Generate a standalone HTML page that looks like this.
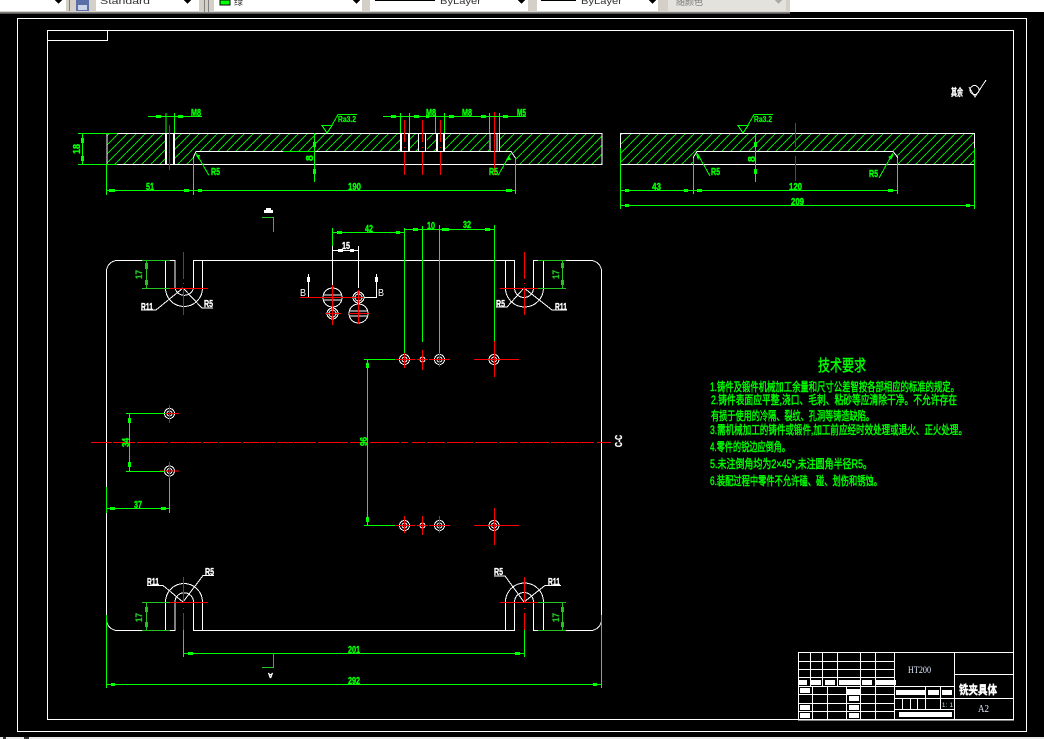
<!DOCTYPE html>
<html>
<head>
<meta charset="utf-8">
<title>铣夹具体</title>
<style>
html,body{margin:0;padding:0;background:#000;width:1044px;height:739px;overflow:hidden}
svg{display:block}
text{font-family:"Liberation Sans","Noto Sans CJK SC",sans-serif}
.d{fill:#00ff00;stroke:#00ff00;stroke-width:.4;font-size:10.500px;font-weight:bold;font-family:"Liberation Serif","Noto Sans CJK SC",serif}
.w{fill:#fff;stroke:#fff;stroke-width:.35;font-size:10.500px;font-weight:bold;font-family:"Liberation Serif","Noto Sans CJK SC",serif}
.g2{fill:#22c422;stroke:#22c422;stroke-width:.3;font-size:9px;font-weight:bold;font-family:"Liberation Serif",serif}
.t{fill:#00ff00;font-size:12px;font-family:"WenQuanYi Zen Hei","Noto Sans CJK SC",sans-serif;stroke:#00ff00;stroke-width:.45}
.b{font-size:9px;fill:#333;font-family:"Liberation Sans","Noto Sans CJK SC",sans-serif}
</style>
</head>
<body>
<svg width="1044" height="739" viewBox="0 0 1044 739" xmlns="http://www.w3.org/2000/svg" shape-rendering="crispEdges">
<defs>
<pattern id="h" patternUnits="userSpaceOnUse" width="9" height="9">
<path d="M-1 10L10 -1" stroke="#00d800" stroke-width="1" fill="none" shape-rendering="crispEdges"/>
</pattern>
</defs>
<rect width="1044" height="739" fill="#000"/>

<!-- toolbar -->
<rect x="0" y="0" width="1044" height="12" fill="#fff"/>
<rect x="0" y="0" width="790" height="13" fill="#d4d0c8"/>
<rect x="0" y="12" width="790" height="1" fill="#808080"/>
<rect x="0" y="13" width="790" height="1" fill="#555"/>
<rect x="0" y="0" width="66" height="11" fill="#fff"/>
<path d="M55 0h7l-3.500 4z" fill="#000"/>
<rect x="69" y="0" width="1" height="11" fill="#808080"/>
<rect x="76" y="0" width="13" height="11" fill="#5a6fa8"/>
<rect x="78" y="5" width="9" height="5" fill="#c9d4ea"/>
<rect x="96" y="0" width="103" height="11" fill="#fff"/>
<text x="100" y="4" class="b" textLength="50" lengthAdjust="spacingAndGlyphs">Standard</text>
<path d="M184 0h7l-3.500 4z" fill="#000"/>
<rect x="204" y="0" width="1" height="12" fill="#808080"/>
<rect x="208" y="0" width="1" height="12" fill="#808080"/>
<rect x="214" y="0" width="148" height="11" fill="#fff"/>
<rect x="220" y="0" width="10" height="5" fill="#00ff00" stroke="#000"/>
<text x="234" y="5" class="b">绿</text>
<path d="M353 0h7l-3.500 4z" fill="#000"/>
<rect x="370" y="0" width="158" height="11" fill="#fff"/>
<rect x="375" y="0" width="60" height="1" fill="#000"/>
<text x="440" y="4" class="b" textLength="41" lengthAdjust="spacingAndGlyphs">ByLayer</text>
<path d="M518 0h7l-3.500 4z" fill="#000"/>
<rect x="537" y="0" width="121" height="11" fill="#fff"/>
<rect x="541" y="0" width="35" height="1" fill="#000"/>
<text x="581" y="4" class="b" textLength="41" lengthAdjust="spacingAndGlyphs">ByLayer</text>
<path d="M649 0h7l-3.500 4z" fill="#000"/>
<rect x="668" y="0" width="118" height="11" fill="#e4e2dc"/>
<text x="676" y="5" class="b" style="fill:#777">随颜色</text>
<path d="M775 0h7l-3.500 4z" fill="#aaa"/>

<!-- frames -->
<g fill="none" stroke="#fff" stroke-width="1">
<rect x="17.500" y="18.500" width="1009" height="713"/>
<rect x="47.500" y="30.500" width="966" height="689"/>
<rect x="47.500" y="30.500" width="60" height="10"/>
</g>
<rect x="0" y="737" width="1044" height="2" fill="#e8e8e8"/>
<rect x="3" y="737" width="3" height="2" fill="#333"/><rect x="24" y="737" width="5" height="2" fill="#333"/>

<!-- hatches -->
<path d="M107 133H602V164H515V158L511 151H196L193 157V164H107Z" fill="url(#h)"/>
<path d="M620 133H975V164H897V157L893 151H697L693 157V164H620Z" fill="url(#h)"/>
<g fill="#000">
<rect x="166" y="134" width="9" height="30"/>
<rect x="400" y="134" width="10" height="17"/>
<rect x="418" y="134" width="9" height="17"/>
<rect x="436" y="134" width="9" height="17"/>
<rect x="489" y="134" width="11" height="17"/>
</g>

<!-- front view white -->
<g stroke="#fff" fill="none" stroke-width="1">
<path d="M107 133.500H602V164.500H107ZM193.500 164V157L196 151.500H511L515.500 158V164"/>
<path d="M401 134V151M409.500 134V151M418.500 134V151M425.500 134V151M436.500 134V151M444 134V151M490 134V151M497 134V151M499.500 134V151"/>
<path d="M166 134V164M174 134V164" stroke-width="2"/>
<path d="M401 134V151M409 134V151M437 134V151M444 134V151" stroke-width="2"/>
</g>
<!-- right section white -->
<g stroke="#fff" fill="none">
<path d="M620.500 133.500H974.500V164.500H620.500ZM693.500 164V157L697 151.500H893L897.500 157V164"/>
</g>

<!-- red lines top -->
<g stroke="#ff0000" fill="none">
<path d="M169.500 125V170M404.500 120V142M404.500 147V148M404.500 152V175M422.500 120V142M422.500 147V148M422.500 152V175M440.500 120V142M440.500 147V148M440.500 152V175M494.500 112V175M795.500 123V147M795.500 156V181"/>
</g>

<!-- green front dims -->
<g stroke="#00ff00" fill="none">
<path d="M78 133.500H117M78 164.500H117M82.500 133V165"/>
<path d="M148 116.500H202M166 113V133M174.500 113V133"/>
<path d="M383 116.500H526M400.500 113V133M409.500 113V133M435.500 113V133M444.500 113V133M489.500 113V133M499.500 113V133"/>
<path d="M106.500 164V195M193.500 158V195M515.500 158V194M106.500 190.500H515"/>
<path d="M314.500 133V182M283 151.500H315"/>
<path d="M322 125.500H332L327 133ZM332 125L338 114.500H357"/>
<path d="M196 153L209 175.500M511 153L498 175.500"/>
<path d="M738 125.500H748L743 133ZM748 125L754 114.500H773"/>
<path d="M755.500 133V182"/>
<path d="M697 153L710 176M893 153L879 178"/>
<path d="M620.500 148V209M974.500 148V209M693.500 158V194M897.500 158V194M620 190.500H897M620 205.500H975"/>
</g>
<path fill="#00ff00" d="M156 115h5v3h-5zM178 115h5v3h-5zM391 115h5v3h-5zM414 115h5v3h-5zM426 115h3v3h-3zM449 115h5v3h-5zM481 115h5v3h-5zM503 115h5v3h-5zM109 189h6v3h-6zM184 189h5v3h-5zM198 189h4v3h-4zM506 189h6v3h-6zM625 189h4v3h-4zM684 189h4v3h-4zM697 189h5v3h-5zM888 189h5v3h-5zM625 204h4v3h-4zM966 204h4v3h-4zM81 138h3v5h-3zM81 156h3v5h-3zM313 142h3v5h-3zM313 169h3v5h-3zM754 142h3v5h-3zM754 169h3v5h-3zM196 155l4 0 -1 5zM509 155l2 5-5 0zM696 154l4 2-2 4zM894 154l-3 6-3-3z"/>

<!-- labels front -->
<g class="d">
<text x="191" y="116" textLength="10" lengthAdjust="spacingAndGlyphs">M8</text>
<text x="426" y="116" textLength="10" lengthAdjust="spacingAndGlyphs">M8</text>
<text x="462" y="116" textLength="10" lengthAdjust="spacingAndGlyphs">M8</text>
<text x="517" y="116" textLength="9" lengthAdjust="spacingAndGlyphs">M5</text>
<text x="338" y="122" style="font-size:8px;stroke-width:.2" textLength="18" lengthAdjust="spacingAndGlyphs">Ra3.2</text>
<text x="754" y="122" style="font-size:8px;stroke-width:.2" textLength="18" lengthAdjust="spacingAndGlyphs">Ra3.2</text>
<text x="146" y="190" textLength="8" lengthAdjust="spacingAndGlyphs">51</text>
<text x="348" y="190" textLength="13" lengthAdjust="spacingAndGlyphs">190</text>
<text x="211" y="175" textLength="9" lengthAdjust="spacingAndGlyphs">R5</text>
<text x="489" y="175" textLength="9" lengthAdjust="spacingAndGlyphs">R5</text>
<text x="711" y="175" textLength="9" lengthAdjust="spacingAndGlyphs">R5</text>
<text x="869" y="177" textLength="9" lengthAdjust="spacingAndGlyphs">R5</text>
<text x="652" y="190" textLength="9" lengthAdjust="spacingAndGlyphs">43</text>
<text x="789" y="190" textLength="13" lengthAdjust="spacingAndGlyphs">120</text>
<text x="791" y="205" textLength="13" lengthAdjust="spacingAndGlyphs">209</text>
<text transform="translate(80 154) rotate(-90)" textLength="10" lengthAdjust="spacingAndGlyphs">18</text>
<text transform="translate(313 161) rotate(-90)">8</text>
<text transform="translate(755 162) rotate(-90)">8</text>
</g>

<!-- roughness top right -->
<text x="951" y="96" class="w" style="font-size:10px" textLength="12" lengthAdjust="spacingAndGlyphs">其余</text>
<g stroke="#fff" fill="none">
<circle cx="974.500" cy="90" r="4.500"/>
<path d="M969 87L975 97L986 80"/>
</g>

<!-- plan outline -->
<g stroke="#fff" fill="none">
<path d="M175 260.500H117A11 11 0 0 0 106.500 272V619A11 11 0 0 0 117 630.500H175V602A9 9 0 0 1 193.500 602V630.500H514.500V602A9.500 9.500 0 0 1 533.500 602V630.500H591A11 11 0 0 0 601.500 619V272A11 11 0 0 0 591 260.500H533.500V288A9.500 9.500 0 0 1 514.500 288V260.500H193.500V288A9.500 9.500 0 0 1 175 288Z"/>
<path d="M165.500 260V288A18.500 18.500 0 0 0 202.500 288V260"/>
<path d="M505.500 260V288A19 19 0 0 0 543.500 288V260"/>
<path d="M165.500 630V602A18.500 18.500 0 0 1 202.500 602V630"/>
<path d="M505.500 630V602A19 19 0 0 1 543.500 602V630"/>
<!-- leaders -->
<path d="M183 288L156 310H141M183 288L202 308H213"/>
<path d="M524 288L552 310H567M524 288L507 307H496"/>
<path d="M183 602L163 585.500H147M183 602L203 575.500H214"/>
<path d="M524 602L505 576H494M524 602L545 585.500H561"/>
<!-- section circles -->
<circle cx="332.500" cy="297.500" r="9.500"/>
<path d="M324 295H341M324 300H341"/>
<circle cx="332.500" cy="313.500" r="5.500"/><circle cx="332.500" cy="313.500" r="3.500"/>
<circle cx="358.500" cy="297.500" r="5.500"/><circle cx="358.500" cy="297.500" r="3.500"/>
<circle cx="358.500" cy="313.500" r="9.500"/>
<path d="M350 311H367M350 316H367"/>
<!-- section marks -->
<path d="M308.500 274V297M376.500 274V297.500H364"/>
<path d="M332.500 246V288M358.500 246V288M332 250.500H359"/>
<!-- holes -->
<circle cx="404.500" cy="359.500" r="5"/><circle cx="404.500" cy="359.500" r="2.500"/>
<circle cx="422.500" cy="359.500" r="2.500"/>
<circle cx="439.500" cy="359.500" r="5"/><circle cx="439.500" cy="359.500" r="2.500"/>
<circle cx="494" cy="359.500" r="5"/><circle cx="494" cy="359.500" r="2.500"/>
<circle cx="404.500" cy="525.500" r="5"/><circle cx="404.500" cy="525.500" r="2.500"/>
<circle cx="422.500" cy="525.500" r="2.500"/>
<circle cx="439.500" cy="525.500" r="5"/><circle cx="439.500" cy="525.500" r="2.500"/>
<circle cx="494" cy="525.500" r="5"/><circle cx="494" cy="525.500" r="2.500"/>
<circle cx="169.500" cy="413.500" r="5"/><circle cx="169.500" cy="413.500" r="2.500"/>
<circle cx="169.500" cy="471" r="5"/><circle cx="169.500" cy="471" r="2.500"/>
</g>
<path fill="#fff" d="M307 277h3v5h-3zM375 277h3v5h-3zM338 249h5v3h-5zM350 249h4v3h-4zM264 210h9v3h-9zM266 208h5v2h-5z"/>

<!-- red plan -->
<g stroke="#ff0000" fill="none">
<path d="M91 442.500H112M113 442.500H135M137 442.500H153M154 442.500H168M170 442.500H185M186 442.500H201M203 442.500H218M219 442.500H241M243 442.500H259M260 442.500H276M277 442.500H293M294 442.500H316M318 442.500H348M350 442.500H367M370 442.500H399M401 442.500H408M412 442.500H425M427 442.500H445M447 442.500H473M475 442.500H497M499 442.500H518M520 442.500H533M534 442.500H549M551 442.500H565M566 442.500H579M580 442.500H594M597 442.500H611"/>
<path d="M183.500 252V279M183.500 283V284M183.500 288V315M170 288.500H208"/>
<path d="M524.500 252V279M524.500 283V284M524.500 288V315M500 288.500H538"/>
<path d="M183.500 577V603M183.500 608V609M183.500 613V630M170 602.500H208"/>
<path d="M524.500 577V603M524.500 608V609M524.500 613V630M500 602.500H538"/>
<path d="M300 297.500H364M332.500 285V325M325 313.500H341M358.500 290V324M349 313.500H369"/>
<path d="M395 359.500H415M404.500 350V368M417 359.500H428M422.500 350V370M429 359.500H450M439.500 350V367M474 359.500H519M494.500 341V377"/>
<path d="M395 525.500H415M404.500 516V533M417 525.500H428M422.500 516V535M429 525.500H450M439.500 516V533M474 525.500H519M494.500 508V545"/>
<path d="M160 413.500H179M169.500 405V423M160 471H179M169.500 462V478"/>
</g>

<!-- green plan -->
<g stroke="#00ff00" fill="none">
<path d="M332.500 228V246M404.500 228V353M422.500 226V342M439.500 225V353M494.500 225V341"/>
<path d="M332 232.500H404M404 229.500H494"/>
<path d="M367.500 359V525M364 359.500H395M364 525.500H395"/>
<path d="M129.500 413V471M126 413.500H165M126 471.500H165"/>
<path d="M106.500 487V513M169.500 478V513M106 508.500H169"/>
<path d="M183.500 630V657M524.500 630V657M183 653.500H524"/>
<path d="M106.500 615V688M601.500 615V688M106 684.500H602"/>
</g>
<path fill="#00ff00" d="M337 231h5v3h-5zM396 231h4v3h-4zM413 228h5v3h-5zM442 228h7v3h-7zM485 228h5v3h-5zM188 652h5v3h-5zM515 652h5v3h-5zM111 683h4v3h-4zM593 683h4v3h-4zM110 507h5v3h-5zM161 507h5v3h-5zM128 418h3v5h-3zM128 462h3v5h-3zM366 363h3v5h-3zM366 517h3v5h-3z"/>

<g stroke="#22c422" fill="none">
<path d="M142 260.500H170M142 288.500H170M146.500 261V288"/>
<path d="M538 260.500H566M538 288.500H566M562.500 261V288"/>
<path d="M142 602.500H170M142 630.500H170M146.500 603V630"/>
<path d="M538 602.500H566M538 630.500H566M562.500 603V630"/>
<path d="M262 217.500H273.500V232M273.500 653V667.500H262"/>
</g>
<path fill="#22c422" d="M145 263h3v6h-3zM145 280h3v5h-3zM561 263h3v5h-3zM561 280h3v5h-3zM145 607h3v5h-3zM145 622h3v5h-3zM561 607h3v5h-3zM561 622h3v5h-3z"/>

<!-- plan labels -->
<g class="g2">
<text transform="translate(142 279) rotate(-90)" textLength="9" lengthAdjust="spacingAndGlyphs">17</text>
<text transform="translate(559 279) rotate(-90)" textLength="9" lengthAdjust="spacingAndGlyphs">17</text>
<text transform="translate(142 622) rotate(-90)" textLength="9" lengthAdjust="spacingAndGlyphs">17</text>
<text transform="translate(559 622) rotate(-90)" textLength="9" lengthAdjust="spacingAndGlyphs">17</text>
</g>
<g class="w">
<text x="141" y="310" textLength="12" lengthAdjust="spacingAndGlyphs">R11</text>
<text x="204" y="307" textLength="9" lengthAdjust="spacingAndGlyphs">R5</text>
<text x="496" y="307" textLength="9" lengthAdjust="spacingAndGlyphs">R5</text>
<text x="555" y="310" textLength="12" lengthAdjust="spacingAndGlyphs">R11</text>
<text x="147" y="585" textLength="12" lengthAdjust="spacingAndGlyphs">R11</text>
<text x="205" y="575" textLength="9" lengthAdjust="spacingAndGlyphs">R5</text>
<text x="494" y="575" textLength="9" lengthAdjust="spacingAndGlyphs">R5</text>
<text x="548" y="585" textLength="12" lengthAdjust="spacingAndGlyphs">R11</text>
<text x="342" y="249" textLength="8" lengthAdjust="spacingAndGlyphs">15</text>
<text x="300" y="296" style="font-weight:normal;stroke-width:0" textLength="6" lengthAdjust="spacingAndGlyphs">B</text>
<text x="378" y="296" style="font-weight:normal;stroke-width:0" textLength="6" lengthAdjust="spacingAndGlyphs">B</text>
<text transform="translate(273 673) rotate(180)" style="font-size:7px">A</text>
<text transform="translate(615 447) rotate(-90)" textLength="12" lengthAdjust="spacingAndGlyphs" y="7">C-C</text>
</g>
<g class="d">
<text x="365" y="232" textLength="8" lengthAdjust="spacingAndGlyphs">42</text>
<text x="427" y="229" textLength="8" lengthAdjust="spacingAndGlyphs">10</text>
<text x="463" y="228" textLength="8" lengthAdjust="spacingAndGlyphs">32</text>
<text x="134" y="508" textLength="8" lengthAdjust="spacingAndGlyphs">37</text>
<text x="348" y="653" textLength="12" lengthAdjust="spacingAndGlyphs">201</text>
<text x="348" y="684" textLength="12" lengthAdjust="spacingAndGlyphs">292</text>
<text transform="translate(129 447) rotate(-90)" textLength="9" lengthAdjust="spacingAndGlyphs">34</text>
<text transform="translate(367 446) rotate(-90)" textLength="9" lengthAdjust="spacingAndGlyphs">96</text>
</g>

<!-- tech requirements -->
<text x="818" y="371" class="t" style="font-size:16px" textLength="48" lengthAdjust="spacingAndGlyphs">技术要求</text>
<g class="t">
<text x="710" y="391" textLength="249" lengthAdjust="spacingAndGlyphs">1.铸件及锻件机械加工余量和尺寸公差智按各部相应的标准的规定。</text>
<text x="711" y="404" textLength="246" lengthAdjust="spacingAndGlyphs">2.铸件表面应平整,浇口、毛刺、粘砂等应清除干净。不允许存在</text>
<text x="711" y="420" textLength="163" lengthAdjust="spacingAndGlyphs">有损于使用的冷隔、裂纹、孔洞等铸造缺陷。</text>
<text x="710" y="434" textLength="257" lengthAdjust="spacingAndGlyphs">3.需机械加工的铸件或锻件,加工前应经时效处理或退火、正火处理。</text>
<text x="710" y="451" textLength="80" lengthAdjust="spacingAndGlyphs">4.零件的锐边应倒角。</text>
<text x="710" y="468" textLength="162" lengthAdjust="spacingAndGlyphs">5.未注倒角均为2×45°,未注圆角半径R5。</text>
<text x="710" y="485" textLength="172" lengthAdjust="spacingAndGlyphs">6.装配过程中零件不允许磕、碰、划伤和锈蚀。</text>
</g>

<!-- title block -->
<g stroke="#fff" fill="none">
<rect x="798.500" y="652.500" width="215" height="67.500"/>
<path d="M798 661.500H895M798 669.500H895M798 677.500H895M798 686.500H954M798 694.500H895M798 703.500H895M798 711.500H895"/>
<path d="M810.500 652V686M822.500 652V686M837.500 652V686M860.500 652V720M875.500 652V720M894.500 652V720"/>
<path d="M812.500 686V720M827.500 686V720M846.500 686V720"/>
<path d="M954.500 652V720M954 674.500H1014M954 698.500H1014"/>
<path d="M895 698.500H954M895 709.500H954M925.500 686V709M940.500 686V709M902.500 698V709M910.500 698V709M917.500 698V709"/>
</g>
<path fill="#fff" d="M799 680h8v5h-8zM811 680h10v5h-10zM825 680h10v5h-10zM839 680h21v5h-21zM862 680h10v5h-10zM876 680h20v5h-20zM800 688h10v5h-10zM847 689h13v5h-13zM849 696h10v5h-10zM800 705h10v5h-10zM849 705h10v5h-10zM800 713h10v5h-10zM849 713h10v5h-10zM896 690h29v5h-29zM928 690h11v5h-11zM942 690h10v5h-10zM899 712h53v5h-53z"/>
<text x="908" y="673" style="font-size:9px;fill:#dfe8ff;font-family:'Liberation Serif',serif" textLength="23" lengthAdjust="spacingAndGlyphs">HT200</text>
<text x="942" y="707" style="font-size:6px;fill:#cfe" textLength="11">1: 1</text>
<text x="959" y="694" style="font-size:12px;fill:#fff;stroke:#fff;stroke-width:.4;font-weight:bold;font-family:'WenQuanYi Zen Hei','Noto Sans CJK SC',sans-serif" textLength="38" lengthAdjust="spacingAndGlyphs">铣夹具体</text>
<text x="978" y="712" style="font-size:10px;fill:#e8eeff;font-family:'Liberation Serif',serif" textLength="11" lengthAdjust="spacingAndGlyphs">A2</text>
</svg>
</body>
</html>
